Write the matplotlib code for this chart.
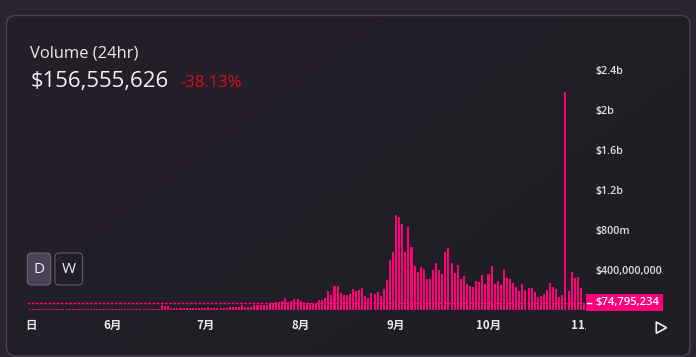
import matplotlib
matplotlib.use("Agg")
import matplotlib.pyplot as plt
import matplotlib.dates as mdates
from matplotlib.patches import FancyBboxPatch, Polygon, Rectangle
from matplotlib.transforms import Bbox, TransformedBbox, blended_transform_factory
import numpy as np
import pandas as pd

# ---------------- data ----------------
title = "Volume (24hr)"
headline_value = "$156,555,626"
headline_change = "-38.13%"
last_value = 74795234
last_label = "$74,795,234"
end_date = "2024-11-01"

# daily volume in millions of USD
volume_m = [
    12, 12, 12, 12, 12, 12, 12, 12, 12, 12, 12, 12, 12, 12, 12, 12, 12, 12, 12, 12, 12, 12,
    12, 12, 12, 12, 12, 12, 12, 12, 12, 12, 12, 12, 12, 12, 12, 12, 12, 12, 12, 12, 12,
    55, 40, 40, 18, 18, 18, 18, 18, 18, 18, 18, 18, 18, 18, 18, 27,
    18, 18, 18, 18, 18, 18, 27, 27, 27, 27, 47, 27, 27, 27, 47, 47,
    47, 47, 47, 57, 73, 77, 83, 93, 123, 83,
    93, 113, 113, 93, 83, 73, 73, 73, 73, 103, 103, 123, 193, 153,
    243, 243, 173, 153, 153, 163, 213, 193, 203, 223, 143, 123, 173,
    163, 183, 143, 213, 303, 503, 583, 953, 933, 863, 583, 833,
    633, 443, 383, 433, 413, 313, 313, 403, 473, 403, 363, 583, 623,
    473, 373, 453, 313, 343, 263, 243, 233, 293, 283, 353, 263, 363,
    443, 263, 293, 253, 413, 323, 313, 273, 233, 193,
    263, 203, 223, 223, 183, 133, 143, 163, 203, 273, 233, 213, 133,
    153, 2183, 193, 383, 323, 333, 223, 74.795234,
]
dates = pd.date_range(end=end_date, periods=len(volume_m), freq="D")
volumes = np.array(volume_m) * 1e6

y_ticks = [400e6, 800e6, 1.2e9, 1.6e9, 2.0e9, 2.4e9]
y_tick_labels = ["$400,000,000", "$800m", "$1.2b", "$1.6b", "$2b", "$2.4b"]
x_tick_dates = pd.to_datetime(["2024-05-05 12:00", "2024-06-01 00:00", "2024-07-01 00:00",
                               "2024-08-01 00:00", "2024-09-01 00:00", "2024-10-01 00:00",
                               "2024-11-01 00:00"])
x_tick_labels = ["日", "6月", "7月", "8月", "9月", "10月", "11月"]
buttons = ["D", "W"]

# ---------------- styling ----------------
PINK = "#ff007a"
TXT = "#ece8ee"
W, H = 696, 357

fig = plt.figure(figsize=(W / 100, H / 100), dpi=100)
fig.patch.set_facecolor("#2a2330")

# background axes in pixel coordinates
bg = fig.add_axes([0, 0, 1, 1])
bg.set_xlim(0, W)
bg.set_ylim(H, 0)
bg.axis("off")

card = FancyBboxPatch((6.5, 15.5), 683.5, 340.5,
                      boxstyle="round,pad=0,rounding_size=9",
                      fc="none", ec="#4a4450", lw=1.0, zorder=2)
bg.add_patch(card)
gx = np.linspace(0, 1, 200)
gy = np.linspace(0, 1, 100)
GX, GY = np.meshgrid(gx, gy)
t = (GX * 0.6 + GY * 0.4)
c0 = np.array([0x25, 0x1e, 0x2a]) / 255
c1 = np.array([0x1f, 0x1f, 0x24]) / 255
img = c0[None, None, :] * (1 - t[..., None]) + c1[None, None, :] * t[..., None]
im = bg.imshow(img, extent=(6.5, 690, 356, 15.5), aspect="auto", zorder=1)
im.set_clip_path(FancyBboxPatch((6.5, 15.5), 683.5, 340.5,
                                boxstyle="round,pad=0,rounding_size=9",
                                transform=bg.transData))
bg.set_xlim(0, W)
bg.set_ylim(H, 0)

# header
bg.text(30.5, 57.3, title, color=TXT, fontsize=11.9, family="Open Sans",
        va="baseline", ha="left", zorder=5)
bg.text(30.5, 87.3, headline_value, color="#f4f0f4", fontsize=15.9, family="Open Sans",
        va="baseline", ha="left", zorder=5)
bg.text(180.5, 87.3, headline_change, color="#d8101e", fontsize=12.0, family="Open Sans",
        va="baseline", ha="left", zorder=5)

# D / W buttons
bg.add_patch(FancyBboxPatch((27.3, 253), 23.4, 32, boxstyle="round,pad=0,rounding_size=4",
                            fc="#4b4255", ec="#6a6173", lw=0.8, zorder=3))
bg.add_patch(FancyBboxPatch((55.0, 253), 27.5, 32, boxstyle="round,pad=0,rounding_size=4",
                            fc="none", ec="#5e5866", lw=0.8, zorder=3))
for cx, lab in zip([39.0, 68.8], buttons):
    bg.text(cx, 269.5, lab, color="#f2eef4", fontsize=11, family="Open Sans",
            ha="center", va="center", zorder=5)

# play triangle
bg.add_patch(Polygon([(656.3, 322), (656.3, 333.3), (666.5, 327.7)], closed=True,
                     fc="none", ec="#f2eef4", lw=1.2, zorder=5))

# ---------------- main chart ----------------
x_left, x_right, y_bot, y_top = 26.7, 585.5, 310.0, 62.0
ax = fig.add_axes([x_left / W, 1 - y_bot / H, (x_right - x_left) / W, (y_bot - y_top) / H])
ax.set_facecolor("none")
for s in ax.spines.values():
    s.set_visible(False)

ax.bar(dates, volumes, width=0.66, color=PINK, linewidth=0, zorder=2, antialiased=False)
ax.axhline(last_value, color=PINK, lw=1.0, linestyle=(0, (2.0, 1.0)), zorder=3)

d0 = mdates.date2num(dates[0])
d1 = mdates.date2num(dates[-1])
ax.set_xlim(d0 - 0.94, d1 + 0.5)
ax.set_ylim(0, (y_bot - y_top) * 1e7)

ax.yaxis.tick_right()
ax.set_yticks(y_ticks, y_tick_labels)
ax.tick_params(axis="y", length=0, pad=(595 - x_right) / 1.389, labelsize=7.7,
               labelcolor="#e2dee6")
for lbl in ax.get_yticklabels():
    lbl.set_family("Open Sans")
    lbl.set_fontweight("semibold")
ax.set_xticks([])

# x labels (clipped at pane edge)
trans_x = blended_transform_factory(ax.transData, fig.transFigure)
clip = TransformedBbox(Bbox([[0, 0], [x_right / W, 1]]), fig.transFigure)
for d, lab in zip(x_tick_dates, x_tick_labels):
    tx = fig.text(mdates.date2num(d), 1 - 325.5 / H, lab, transform=trans_x,
                  ha="center", va="center", fontsize=8.3, fontweight="bold",
                  family=["Noto Sans CJK SC", "DejaVu Sans"], color=TXT)
    tx.set_clip_box(clip)
    tx.set_clip_on(True)

# last-value label
fig.canvas.draw()
py = H - ax.transData.transform((0, last_value))[1]
bg.add_patch(Rectangle((586, py - 8.8), 76.7, 17.3, fc=PINK, ec="none", zorder=4))
bg.plot([587, 590.5], [py, py], color="white", lw=1.0, zorder=5)
bg.text(595, py + 0.3, last_label, color="white", fontsize=8.1, family="Open Sans",
        fontweight="semibold", ha="left", va="center", zorder=6)

fig.savefig("out.png", dpi=100, facecolor=fig.get_facecolor())
